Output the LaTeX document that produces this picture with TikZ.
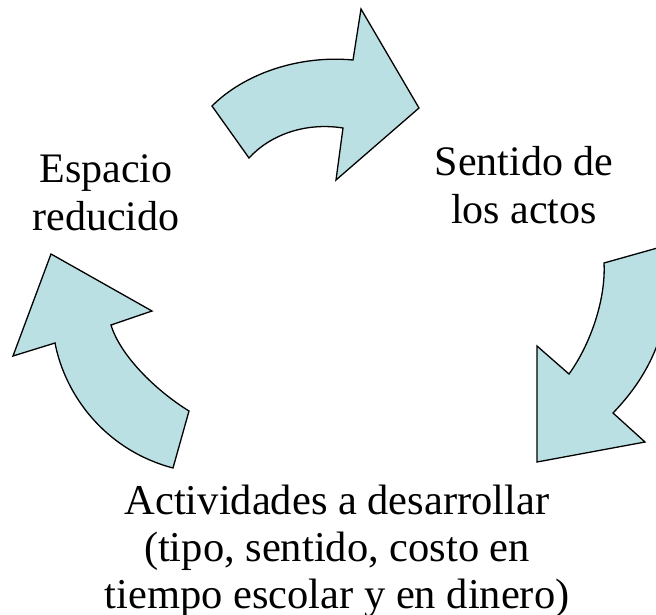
\documentclass[tikz,border=0pt]{standalone}
\usepackage{fontspec}
\setmainfont{Liberation Serif}
\definecolor{arrowfill}{RGB}{187,224,227}
\begin{document}
\begin{tikzpicture}[x=1pt,y=-1pt,
  bigarrow/.style={fill=arrowfill,draw=black,line width=1.3pt,line join=miter},
  label/.style={align=center,font=\fontsize{42}{48.5}\selectfont,inner sep=0pt}]
\useasboundingbox (0,0) rectangle (656,615);
\clip (0,0) rectangle (656,615);
% top arrow
\draw[bigarrow] (212,106) .. controls (245,73) and (300,55) .. (353,60)
  -- (361,9) -- (419,108) -- (336,180) -- (343,128)
  .. controls (305,122) and (270,135) .. (249,158) -- cycle;
% right arrow
\draw[bigarrow] (604,263) .. controls (606,300) and (590,345) .. (569,374)
  -- (537,346) -- (537,462) -- (645,442) -- (613,413)
  .. controls (640,385) and (662,350) .. (668,300) -- (668,245) -- cycle;
% left arrow
\draw[bigarrow] (51,254) -- (152,311) -- (111,325)
  .. controls (120,355) and (155,390) .. (189,411) -- (173,468)
  .. controls (105,450) and (65,395) .. (55,343) -- (13,356) -- cycle;
\node[label] (esp) at (106,193) {Espacio\\reducido};
\node[label] (sen) at (524,185) {Sentido de\\los actos};
\node[label,font=\fontsize{42.5}{47}\selectfont] (act) at (337,551.5) {Actividades a desarrollar\\(tipo, sentido, costo en\\tiempo escolar y en dinero)};
\end{tikzpicture}
\end{document}
